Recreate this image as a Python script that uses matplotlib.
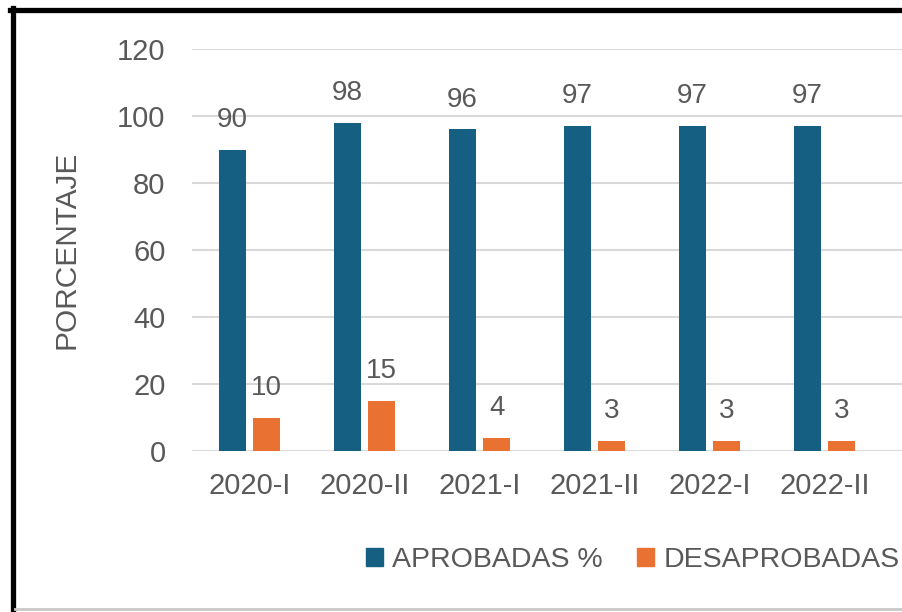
import numpy as np
import matplotlib
matplotlib.use("Agg")
import matplotlib.pyplot as plt
from matplotlib.lines import Line2D
from matplotlib.patches import Patch

# data
semestres = ["2020-I", "2020-II", "2021-I", "2021-II", "2022-I", "2022-II"]
aprobadas = [90, 98, 96, 97, 97, 97]
desaprobadas = [10, 15, 4, 3, 3, 3]
yticks = [0, 20, 40, 60, 80, 100, 120]

BLUE = "#156082"
ORANGE = "#E97132"
TXT = "#595959"
GRID = "#D9D9D9"

plt.rcParams['font.family'] = ['Liberation Sans', 'DejaVu Sans']

W, H = 902, 612
fig = plt.figure(figsize=(W / 100, H / 100), dpi=100)
ax = fig.add_axes([192 / W, 1 - 451 / H, 1 - 192 / W, (451 - 49) / H])

x = np.arange(len(semestres))
width = 0.235
b1 = ax.bar(x - 0.15, aprobadas, width, color=BLUE, label="APROBADAS %", zorder=3)
b2 = ax.bar(x + 0.15, desaprobadas, width, color=ORANGE, label="DESAPROBADAS", zorder=3)

ax.bar_label(b1, padding=12, fontsize=20, color=TXT)
ax.bar_label(b2, padding=12, fontsize=20, color=TXT)

ax.set_ylim(0, 120)
ax.set_xlim(-0.5, -0.5 + 710 / 115)
ax.set_yticks(yticks)
ax.set_xticks(x, semestres)
ax.tick_params(axis='both', length=0, labelsize=21, labelcolor=TXT)
ax.tick_params(axis='y', pad=19)
ax.tick_params(axis='x', pad=15)
ax.yaxis.grid(True, color=GRID, linewidth=1.5, zorder=0)
ax.set_axisbelow(True)
for s in ax.spines.values():
    s.set_visible(False)

ax.set_ylabel("PORCENTAJE", fontsize=21.5, color=TXT)
ax.yaxis.set_label_coords(-111 / 710, 0.5)

handles = [Patch(color=BLUE, label="APROBADAS %"), Patch(color=ORANGE, label="DESAPROBADAS")]
fig.legend(handles=handles, loc='center left', bbox_to_anchor=(366 / W, 1 - 560 / H),
           ncol=2, frameon=False, borderpad=0, borderaxespad=0,
           handlelength=0.6, handleheight=0.6, handletextpad=0.32,
           columnspacing=1.2, fontsize=20.5, labelcolor=TXT)

# frame of the screenshot
fig.add_artist(Line2D([10 / W, 1], [1 - 10 / H, 1 - 10 / H], color="black", linewidth=3.8,
                      transform=fig.transFigure))
fig.add_artist(Line2D([12.5 / W, 12.5 / W], [1 - 8 / H, 0], color="black", linewidth=3.8,
                      transform=fig.transFigure))
fig.add_artist(Line2D([15 / W, 1], [1 - 609 / H, 1 - 609 / H], color="#C8C8C8", linewidth=2,
                      transform=fig.transFigure))

fig.savefig("out.png", dpi=100)
